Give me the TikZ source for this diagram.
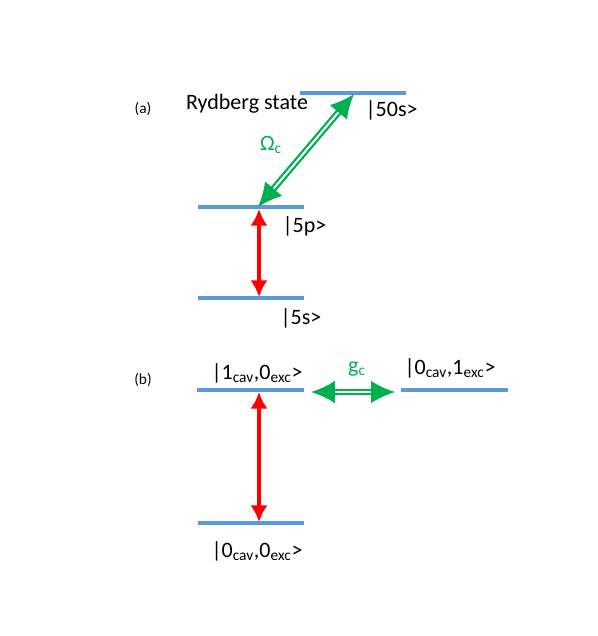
\documentclass[tikz,border=0pt]{standalone}
\usepackage{fontspec}
\setmainfont{Carlito}
\usetikzlibrary{arrows.meta}
\definecolor{levelblue}{HTML}{5B9BD5}
\definecolor{pumpgreen}{HTML}{00B050}
\definecolor{probered}{HTML}{FF0000}
\tikzset{
  level/.style={levelblue,line width=3pt},
  statelbl/.style={font=\fontsize{16.5}{18}\selectfont,inner sep=1pt},
  panellbl/.style={font=\fontsize{11.5}{13}\selectfont,inner sep=1pt},
  probe/.style={probered,line width=3.3pt,{Latex[length=12.5pt,width=13pt]}-{Latex[length=12.5pt,width=13pt]}},
  couple/.style={pumpgreen,line width=1.7pt,double=white,double distance=1.5pt,{Latex[length=18pt,width=17pt]}-{Latex[length=18pt,width=17pt]}}
}

\begin{document}
\begin{tikzpicture}[x=0.75pt,y=-0.75pt]
  \useasboundingbox (0,0) rectangle (598,636);
  % energy levels
  \foreach \name/\xa/\xb/\y in {r50/300/406/93,p5/198/304/207,s5/198/304/298,one/197/304/390,exc/401/508/390,zero/198/304/523}{
    \draw[level] (\xa,\y) coordinate (\name-l) -- (\xb,\y) coordinate (\name-r);
  }
  % arrow ends
  \coordinate (r50-a) at (354,94);
  \coordinate (p5-a) at (258,207);
  \coordinate (p5-b) at (259,209);
  \coordinate (s5-a) at (259,297);
  \coordinate (one-a) at (259,392);
  \coordinate (zero-a) at (259,522);
  \coordinate (gl) at (311,392);
  \coordinate (gr) at (395,392);
  % transitions
  \draw[couple] (p5-a) -- (r50-a);
  \draw[probe] (p5-b) -- (s5-a);
  \draw[probe] (one-a) -- (zero-a);
  \draw[couple] (gl) -- (gr);
  % labels
  \node[panellbl] (pa) at (143,109) {(a)};
  \node[statelbl] (ryd) at (247,104) {Rydberg state};
  \node[statelbl,anchor=west] (l50) at (364,110) {|50s>};
  \node[statelbl,text=pumpgreen] (om) at (271,145) {Ω\textsubscript{c}};
  \node[statelbl,anchor=west] (l5p) at (281,226) {|5p>};
  \node[statelbl,anchor=west] (l5s) at (279,318) {|5s>};
  \node[panellbl] (pb) at (143,380) {(b)};
  \node[statelbl] (lone) at (257,373) {|1\textsubscript{cav},0\textsubscript{exc}>};
  \node[statelbl,text=pumpgreen] (gc) at (357,369) {g\textsubscript{c}};
  \node[statelbl] (lexc) at (450,368) {|0\textsubscript{cav},1\textsubscript{exc}>};
  \node[statelbl] (lzero) at (257,551) {|0\textsubscript{cav},0\textsubscript{exc}>};
\end{tikzpicture}
\end{document}
